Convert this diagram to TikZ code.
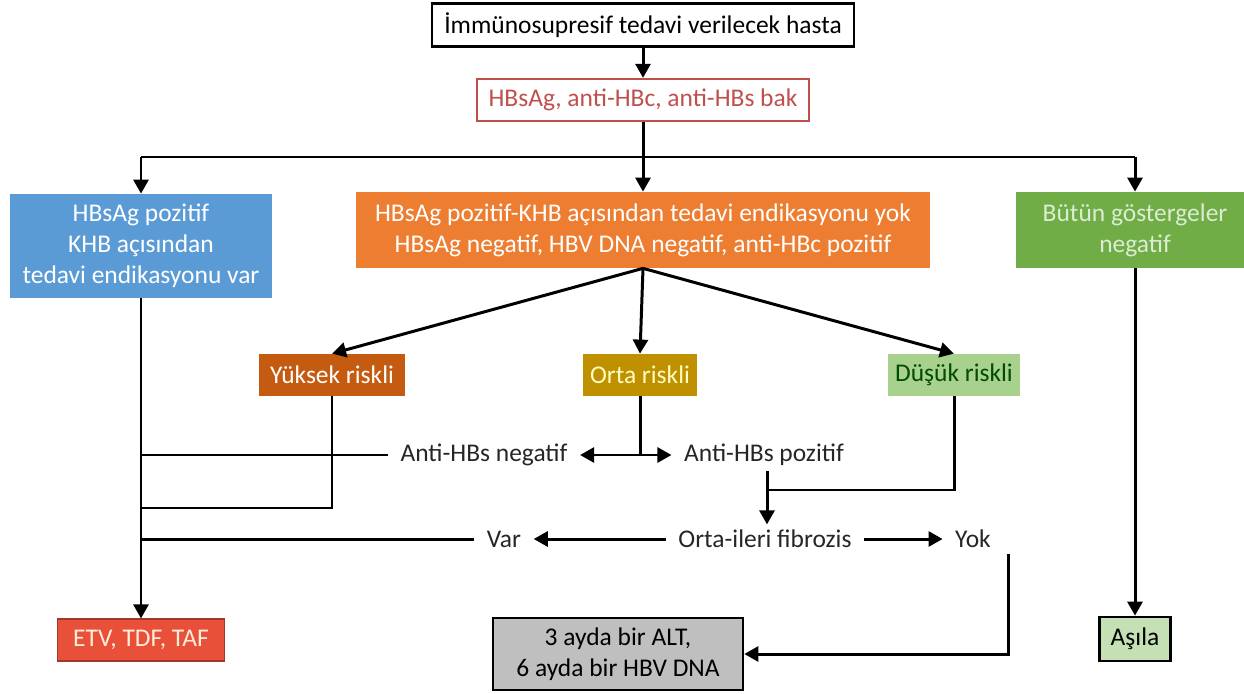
\documentclass[tikz,border=0pt]{standalone}
\usepackage{fontspec}
\setmainfont{Carlito}
\usetikzlibrary{arrows.meta}
\definecolor{BoxRed}{HTML}{C0504D}
\definecolor{BoxBlue}{HTML}{5B9BD5}
\definecolor{BoxOrange}{HTML}{ED7D31}
\definecolor{BoxGreen}{HTML}{70AD47}
\definecolor{HighRisk}{HTML}{C55A11}
\definecolor{MidRisk}{HTML}{BF9000}
\definecolor{LowRisk}{HTML}{A9D18E}
\definecolor{DrugRed}{HTML}{E8503A}
\definecolor{LGray}{HTML}{BFBFBF}
\definecolor{LGreen}{HTML}{C5E0B4}

\begin{document}
\begin{tikzpicture}[x=0.02cm,y=-0.02cm,
  every node/.style={font=\fontsize{14.5}{17.6}\selectfont, align=center, inner sep=0pt},
  frame/.style={draw, line width=1.5pt},
  fillbox/.style={text=white},
  txt/.style={inner xsep=7pt, inner ysep=3pt, text=black!85},
  ln/.style={line width=1.7pt},
  arr/.style={line width=1.7pt, -{Triangle[length=8pt,width=8.5pt]}}]
\useasboundingbox (0,0) rectangle (1244,693);

\node[frame, minimum width=8.44cm, minimum height=0.86cm] (top) at (643,25) {İmmünosupresif tedavi verilecek hasta};
\node[frame, draw=BoxRed, text=BoxRed, line width=1.3pt, minimum width=6.64cm, minimum height=0.84cm] (test) at (643,100) {HBsAg, anti-HBc, anti-HBs bak};

\node[fillbox, fill=BoxBlue, minimum width=5.24cm, minimum height=2.08cm] (pos) at (141,246) {HBsAg pozitif\\KHB açısından\\tedavi endikasyonu var};
\node[fillbox, fill=BoxOrange, minimum width=11.48cm, minimum height=1.52cm] (mid) at (643,230) {HBsAg pozitif-KHB açısından tedavi endikasyonu yok\\HBsAg negatif, HBV DNA negatif, anti-HBc pozitif};
\node[fillbox, fill=BoxGreen, text=LGreen!60!white, minimum width=4.76cm, minimum height=1.52cm] (neg) at (1135,230) {Bütün göstergeler\\negatif};

\node[fillbox, fill=HighRisk, minimum width=2.94cm, minimum height=0.84cm] (hi) at (332,375) {Yüksek riskli};
\node[fillbox, fill=MidRisk, text=yellow!25!white, minimum width=2.28cm, minimum height=0.84cm] (md) at (640,375) {Orta riskli};
\node[fill=LowRisk, text=black!70!green, minimum width=2.64cm, minimum height=0.84cm] (lo) at (954,375) {Düşük riskli};

\node[txt] (ahn) at (484,455) {Anti-HBs negatif};
\node[txt] (ahp) at (764,455) {Anti-HBs pozitif};
\node[txt] (fib) at (765,539) {Orta-ileri fibrozis};
\node[txt] (var) at (504,539) {Var};
\node[txt] (yok) at (973,539) {Yok};

\node[fill=DrugRed, text=orange!15!white, draw=DrugRed!70!black, line width=0.6pt, minimum width=3.34cm, minimum height=0.84cm] (etv) at (141,640) {ETV, TDF, TAF};
\node[frame, fill=LGray, minimum width=5.0cm, minimum height=1.44cm] (gray) at (618,654) {3 ayda bir ALT,\\6 ayda bir HBV DNA};
\node[frame, fill=LGreen, minimum width=1.42cm, minimum height=0.88cm] (asi) at (1135,639) {Aşıla};

% ust kisim
\draw[arr] (top) -- (test);
\draw[arr] (test) -- (mid);
\coordinate (br) at (643,157);
\draw[ln] (pos.north |- br) -- (neg.north |- br);
\draw[arr] (pos.north |- br) -- (pos.north);
\draw[arr] (neg.north |- br) -- (neg.north);

% risk gruplari
\draw[arr] (mid.south) -- (hi.north);
\draw[arr] (mid.south) -- (md.north);
\draw[arr] (mid.south) -- (lo.north);

% sol gövde
\draw[arr] (pos.south) -- (etv.north);
\coordinate (hj) at (141,508);
\draw[ln] (hi.south) |- (hj);
\draw[ln] (ahn.west) -- (ahn.west -| etv.north);
\draw[ln] (var.west) -- (var.west -| etv.north);

% orta riskli
\coordinate (mj) at (md.south |- ahn.east);
\draw[ln] (md.south) -- (mj);
\draw[arr] (mj) -- (ahn.east);
\draw[arr] (mj) -- (ahp.west);

% dusuk riskli ve fibrozis
\coordinate (lj) at (767,490);
\draw[ln] (lo.south) |- (lj);
\draw[arr] (ahp.south -| lj) -- (fib.north -| lj);
\draw[arr] (fib.west) -- (var.east);
\draw[arr] (fib.east) -- (yok.west);
\draw[arr] ([xshift=3pt]yok.south east) |- (gray.east);

% asilama
\draw[arr] (neg.south -| asi.north) -- (asi.north);
\end{tikzpicture}
\end{document}
